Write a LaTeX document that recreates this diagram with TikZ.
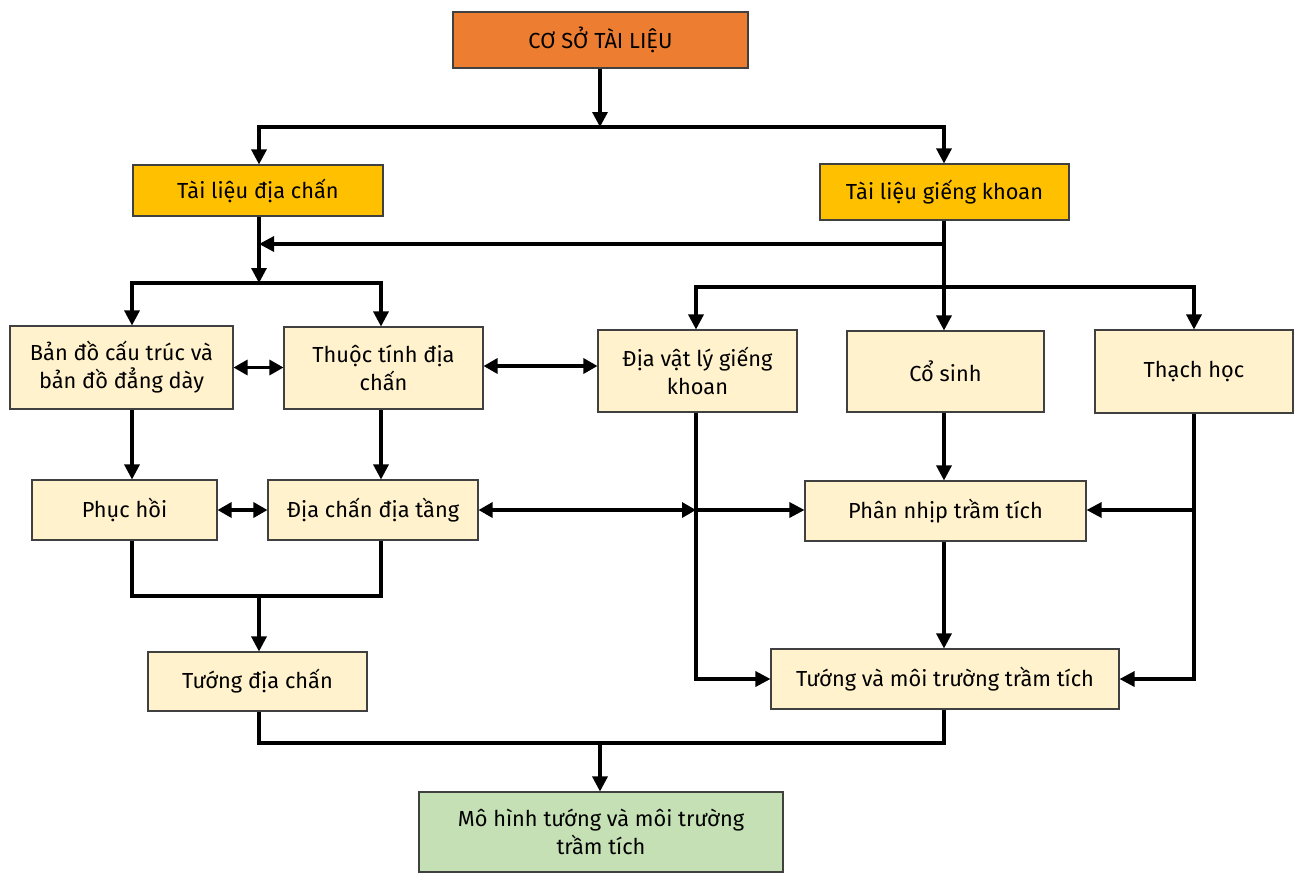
\documentclass[tikz,border=0pt]{standalone}
\usepackage{fontspec}
\setmainfont{Fira Sans}
\usetikzlibrary{arrows.meta}
\definecolor{cOrange}{HTML}{ED7D31}
\definecolor{cYellow}{HTML}{FFC000}
\definecolor{cLight}{HTML}{FFF2CC}
\definecolor{cGreen}{HTML}{C5E0B4}
\definecolor{cBorder}{HTML}{404040}
\tikzset{
  bx/.style 2 args={draw=cBorder, line width=0.6pt, minimum width=#1*0.02cm, minimum height=#2*0.02cm,
    inner sep=0pt, align=center, font=\fontsize{12.4}{16}\selectfont},
  conn/.style={line width=1.8pt, black},
  arr/.style={conn, -{Triangle[length=0.3cm,width=0.3cm]}},
  darr/.style={conn, {Triangle[length=0.28cm,width=0.3cm]}-{Triangle[length=0.28cm,width=0.3cm]}},
}
\begin{document}
\begin{tikzpicture}[x=0.02cm,y=-0.02cm]
\useasboundingbox (0,0) rectangle (1295,873);
% boxes
\node[bx={295}{56}, fill=cOrange] (top) at (600.5,40) {CƠ SỞ TÀI LIỆU};
\node[bx={250}{51}, fill=cYellow] (tdc) at (258,190.5) {Tài liệu địa chấn};
\node[bx={249}{56}, fill=cYellow] (tgk) at (944.5,192) {Tài liệu giếng khoan};
\node[bx={223}{83}, fill=cLight] (bd) at (121.5,367.5) {Bản đồ cấu trúc và\\bản đồ đẳng dày};
\node[bx={199}{82}, fill=cLight] (tt) at (383.5,368) {Thuộc tính địa\\chấn};
\node[bx={199}{82}, fill=cLight] (dvl) at (697.5,371) {Địa vật lý giếng\\khoan};
\node[bx={197}{81}, fill=cLight] (cs) at (945.5,371.5) {Cổ sinh};
\node[bx={198}{83}, fill=cLight] (th) at (1194,371.5) {Thạch học};
\node[bx={185}{60}, fill=cLight] (ph) at (124.5,510) {Phục hồi};
\node[bx={210}{60}, fill=cLight] (dcdt) at (373,510) {Địa chấn địa tầng};
\node[bx={281}{60}, fill=cLight] (pn) at (945.5,511) {Phân nhịp trầm tích};
\node[bx={219}{59}, fill=cLight] (tdc2) at (257.5,681.5) {Tướng địa chấn};
\node[bx={348}{60}, fill=cLight] (tmt) at (945,679) {Tướng và môi trường trầm tích};
\node[bx={364}{80}, fill=cGreen] (mh) at (601,832) {Mô hình tướng và môi trường\\trầm tích};
% line positions
\coordinate (xa) at (132,0);
\coordinate (xb) at (381,0);
\coordinate (xc) at (259,0);
\coordinate (xe) at (944,0);
\coordinate (xf) at (696,0);
\coordinate (xg) at (1194,0);
\coordinate (b1) at (600,127);
\coordinate (c2) at (259,244);
\coordinate (b2) at (259,283);
\coordinate (b3) at (944,287);
\coordinate (b4) at (259,596);
\coordinate (b5) at (600,743);
% top
\draw[arr] (top.south -| b1) -- (b1);
\draw[arr] (b1) -| (tdc.north -| xc);
\draw[arr] (b1) -| (tgk.north -| xe);
% left trunk
\draw[arr] (tdc.south -| xc) -- (b2);
\draw[arr] (tgk.south -| xe) |- (c2);
\draw[arr] (b2) -| (bd.north -| xa);
\draw[arr] (b2) -| (tt.north -| xb);
% right trunk
\draw[conn] (tgk.south -| xe) -- (b3);
\draw[arr] (b3) -| (dvl.north -| xf);
\draw[arr] (b3) -- (cs.north -| xe);
\draw[arr] (b3) -| (th.north -| xg);
% double arrows row 1
\draw[darr] (bd.east) -- (bd.east -| tt.west);
\draw[darr] ([yshift=0.04cm]tt.east) -- ([yshift=0.04cm]tt.east -| dvl.west);
% down to row 2
\draw[arr] (bd.south -| xa) -- (ph.north -| xa);
\draw[arr] (tt.south -| xb) -- (dcdt.north -| xb);
\draw[arr] (cs.south -| xe) -- (pn.north -| xe);
% row 2 connections
\draw[darr] (ph.east) -- (ph.east -| dcdt.west);
\coordinate (m1) at (dcdt.east -| xf);
\coordinate (m2) at (m1 -| xg);
\draw[darr] (dcdt.east) -- (m1);
\draw[arr] (m1) -- (m1 -| pn.west);
\draw[arr] (dvl.south -| xf) |- (tmt.west);
\draw[arr] (th.south -| xg) |- (tmt.east);
\draw[arr] (m2) -- (m1 -| pn.east);
\draw[arr] (pn.south -| xe) -- (tmt.north -| xe);
% left bottom merge
\draw[conn] (ph.south -| xa) -- (xa |- b4) -- (xb |- b4) -- (dcdt.south -| xb);
\draw[arr] (b4) -- (tdc2.north -| b4);
% final merge
\draw[conn] (tdc2.south -| xc) -- (xc |- b5) -- (xe |- b5) -- (tmt.south -| xe);
\draw[arr] (b5) -- (mh.north -| b5);
\end{tikzpicture}
\end{document}
